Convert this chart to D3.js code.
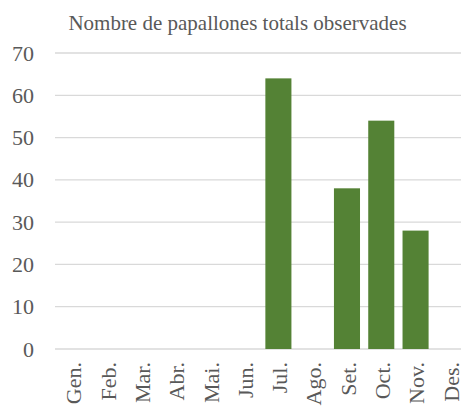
<!DOCTYPE html>
<html>
<head>
<meta charset="utf-8">
<script src="https://cdn.jsdelivr.net/npm/d3@7"></script>
<style>
  html, body { margin: 0; padding: 0; background: #fff; }
  svg { display: block; }
</style>
</head>
<body>
<script>
// Monthly butterfly counts
const months = ["Gen.", "Feb.", "Mar.", "Abr.", "Mai.", "Jun.", "Jul.", "Ago.", "Set.", "Oct.", "Nov.", "Des."];
const counts = [0, 0, 0, 0, 0, 0, 64, 0, 38, 54, 28, 0];
const yTicks = [0, 10, 20, 30, 40, 50, 60, 70];
const title = "Nombre de papallones totals observades";

const W = 461, H = 410;
const svg = d3.select("body").append("svg").attr("width", W).attr("height", H);

const font = "'Liberation Serif', 'Times New Roman', serif";
const textColor = "#595959";

const x = d3.scaleBand().domain(months).range([55.5, 467]).paddingInner(0.24).paddingOuter(0.12);
const y = d3.scaleLinear().domain([0, 70]).range([349, 53]);

// Gridlines
svg.append("g")
  .selectAll("line")
  .data(yTicks)
  .join("line")
  .attr("x1", 55).attr("x2", W)
  .attr("y1", d => y(d)).attr("y2", d => y(d))
  .attr("stroke", "#d9d9d9")
  .attr("stroke-width", 1.3);

// Y axis labels
const yAxis = svg.append("g")
  .attr("transform", "translate(34,0)")
  .call(d3.axisLeft(y).tickValues(yTicks).tickSize(0).tickPadding(0));
yAxis.select(".domain").remove();
yAxis.selectAll("text")
  .attr("font-family", font)
  .attr("font-size", 22)
  .attr("fill", textColor);

// Bars
svg.append("g")
  .selectAll("rect")
  .data(months.map((m, i) => ({ m, v: counts[i] })).filter(d => d.v > 0))
  .join("rect")
  .attr("x", d => x(d.m))
  .attr("width", x.bandwidth())
  .attr("y", d => y(d.v))
  .attr("height", d => y(0) - y(d.v))
  .attr("fill", "#548235");

// X axis labels (rotated)
const xAxis = svg.append("g")
  .attr("transform", `translate(0,${y(0)})`)
  .call(d3.axisBottom(x).tickSize(0).tickPadding(0));
xAxis.select(".domain").remove();
xAxis.selectAll("text")
  .attr("font-family", font)
  .attr("font-size", 22)
  .attr("fill", textColor)
  .attr("text-anchor", "end")
  .attr("dy", "0.35em")
  .attr("transform", "translate(1,13) rotate(-90)")
  .attr("x", 0)
  .attr("y", 0);

// Title
svg.append("text")
  .attr("x", 237.5)
  .attr("y", 30)
  .attr("text-anchor", "middle")
  .attr("font-family", font)
  .attr("font-size", 21)
  .attr("fill", textColor)
  .text(title);
</script>
</body>
</html>
